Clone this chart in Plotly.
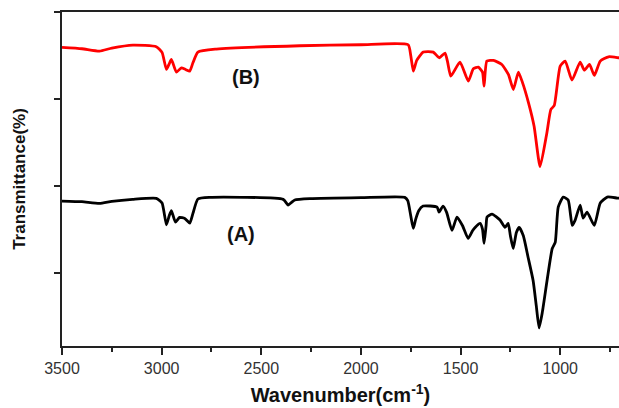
import plotly.graph_objects as go

# Spectrum (A) - black
wn_a = [3500, 3400, 3312, 3250, 3146, 3027, 2998, 2976, 2962, 2951, 2931, 2910, 2884, 2859, 2843, 2818,
        2759, 2390, 2365, 2348, 2332, 2256, 2000, 1780, 1765, 1750, 1737, 1725, 1710, 1688, 1618,
        1608, 1588, 1570, 1543, 1518, 1490, 1462, 1440, 1427, 1402, 1390, 1382, 1372, 1367, 1342,
        1302, 1277, 1261, 1250, 1236, 1220, 1206, 1185, 1161, 1136, 1120, 1106, 1090, 1066, 1040,
        1025, 1010, 985, 960, 940, 925, 900, 885, 865, 829, 799, 764, 714, 705]
t_a = [43.4, 43.2, 42.7, 43.3, 43.9, 44.2, 42.8, 36.3, 39.0, 40.5, 37.1, 38.5, 38.2, 36.8, 39.7, 44.0,
       44.5, 43.9, 42.2, 43.0, 43.7, 44.1, 44.4, 44.5, 43.5, 39.0, 35.2, 38.0, 40.5, 41.9, 41.6,
       40.1, 41.9, 40.0, 34.6, 38.6, 36.0, 32.2, 34.5, 35.5, 36.7, 35.0, 30.7, 36.0, 38.6, 39.5,
       37.7, 35.5, 36.7, 33.0, 29.2, 34.0, 35.5, 33.0, 26.5, 19.6, 12.0, 5.4, 10.0, 19.6, 29.2,
       31.0, 41.6, 44.6, 43.7, 36.1, 37.7, 42.2, 38.3, 40.1, 36.1, 42.8, 44.6, 44.3, 44.3]

# Spectrum (B) - red
wn_b = [3500, 3400, 3312, 3250, 3144, 3027, 2998, 2976, 2962, 2951, 2926, 2901, 2880, 2859, 2843, 2818,
        2725, 2307, 2000, 1763, 1750, 1737, 1720, 1687, 1637, 1607, 1578, 1565, 1549, 1503, 1461,
        1436, 1411, 1390, 1382, 1368, 1335, 1293, 1260, 1235, 1210, 1190, 1159, 1131, 1101, 1067,
        1047, 1030, 1000, 975, 941, 900, 879, 853, 829, 799, 757, 707, 705]
t_b = [89.4, 89.0, 88.3, 89.2, 90.1, 89.6, 87.9, 82.8, 84.5, 85.8, 82.0, 83.3, 82.8, 82.3, 84.8, 88.0,
       88.9, 89.9, 90.2, 90.2, 87.0, 82.3, 85.5, 88.0, 88.0, 86.3, 87.7, 85.0, 80.8, 85.0, 79.3,
       83.0, 83.5, 82.0, 77.8, 85.3, 85.5, 84.3, 81.3, 76.8, 82.0, 79.0, 72.8, 65.8, 53.7, 63.8,
       70.8, 72.0, 83.8, 85.3, 79.6, 85.0, 82.6, 84.3, 81.0, 85.3, 86.6, 86.3, 86.3]

x_ticks = [3500, 3000, 2500, 2000, 1500, 1000]
y_ticks = [22, 48, 74, 100]
labels = ["(B)", "(A)"]
label_x = [2577, 2600]
label_y = [80.5, 33.5]

fig = go.Figure()
fig.add_trace(go.Scatter(x=wn_a, y=t_a, mode="lines",
                         line=dict(color="black", width=2.8, shape="spline", smoothing=0.5),
                         showlegend=False))
fig.add_trace(go.Scatter(x=wn_b, y=t_b, mode="lines",
                         line=dict(color="#ff0000", width=2.8, shape="spline", smoothing=0.5),
                         showlegend=False))

for lab, lx, ly in zip(labels, label_x, label_y):
    fig.add_annotation(x=lx, y=ly, text="<b>%s</b>" % lab, showarrow=False,
                       font=dict(family="Liberation Sans", size=20, color="#111111"))

fig.update_layout(
    width=619, height=408,
    margin=dict(l=62, r=0, t=12, b=62),
    paper_bgcolor="white", plot_bgcolor="white",
    font=dict(family="Liberation Sans", color="#222222"),
    xaxis=dict(
        range=[3500, 705], tickvals=x_ticks, ticks="outside", ticklen=7, tickwidth=1.5,
        tickcolor="#222222", showgrid=False, zeroline=False, showline=True, linewidth=2,
        linecolor="#222222", mirror=True, tickfont=dict(size=16, color="#333333"),
        automargin=False,
        minor=dict(dtick=250, tick0=3250, ticks="outside", ticklen=4, tickwidth=1.5,
                   tickcolor="#222222", showgrid=False),
        title=dict(text="<b>Wavenumber(cm<sup>-1</sup>)</b>", font=dict(size=20, color="#111111"),
                   standoff=12),
    ),
    yaxis=dict(
        range=[0, 100], tickvals=y_ticks, showticklabels=False, ticks="outside", ticklen=6,
        tickwidth=1.5, tickcolor="#222222", showgrid=False, zeroline=False, showline=True,
        linewidth=2, linecolor="#222222", automargin=False,
        title=dict(text="<b>Transmittance(%)</b>", font=dict(size=17, color="#111111"),
                   standoff=24),
    ),
)

fig.write_html("out.html", config={"displayModeBar": False},
               post_script="document.body.style.margin='0';")
